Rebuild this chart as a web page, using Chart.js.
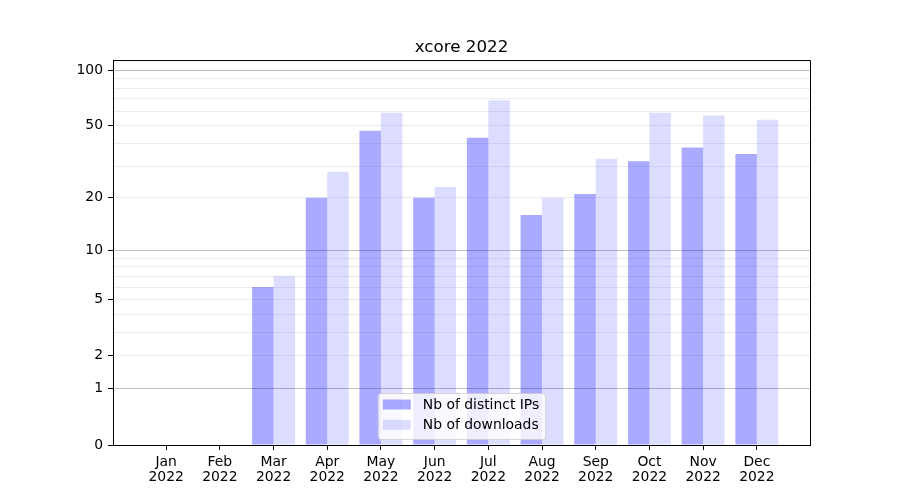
<!DOCTYPE html>
<html>
<head>
<meta charset="utf-8">
<title>xcore 2022</title>
<script src="https://cdn.jsdelivr.net/npm/chart.js@4"></script>
<style>
  html, body { margin: 0; padding: 0; background: #fff; }
</style>
</head>
<body>
<canvas id="chart" width="900" height="500"></canvas>
<script>
const months = ['Jan', 'Feb', 'Mar', 'Apr', 'May', 'Jun', 'Jul', 'Aug', 'Sep', 'Oct', 'Nov', 'Dec'];
const year = '2022';
const distinctIPs = [0, 0, 6, 20, 47, 20, 43, 16, 21, 32, 38, 35];
const downloads = [0, 0, 7, 28, 59, 23, 69, 20, 33, 59, 57, 54];
const yTickValues = [0, 1, 2, 5, 10, 20, 50, 100];
const yMinorValues = [3, 4, 6, 7, 8, 9, 30, 40, 60, 70, 80, 90];
const yDecades = [1, 10, 100];

// y = log10(1 + v) scale
class Log1pScale extends Chart.LinearScale {
  static id = 'log1p';
  static defaults = Chart.LinearScale.defaults;

  getPixelForValue(value) {
    if (value === null || isNaN(value)) return NaN;
    const t0 = Math.log10(1 + this.min);
    const t1 = Math.log10(1 + this.max);
    return this.getPixelForDecimal((Math.log10(1 + value) - t0) / (t1 - t0));
  }

  getValueForPixel(pixel) {
    const t0 = Math.log10(1 + this.min);
    const t1 = Math.log10(1 + this.max);
    return Math.pow(10, t0 + this.getDecimalForPixel(pixel) * (t1 - t0)) - 1;
  }
}
Chart.register(Log1pScale);

Chart.defaults.font.family = '"DejaVu Sans", sans-serif';
Chart.defaults.font.size = 13.9;
Chart.defaults.color = '#000';

// full box around the plot like matplotlib spines
const frame = {
  id: 'frame',
  afterDatasetsDraw(chart) {
    const { ctx, chartArea: a } = chart;
    ctx.save();
    ctx.strokeStyle = '#000';
    ctx.lineWidth = 1;
    ctx.beginPath();
    ctx.moveTo(a.left + 0.5, a.top + 0.5);
    ctx.lineTo(a.right + 0.5, a.top + 0.5);
    ctx.lineTo(a.right + 0.5, a.bottom + 0.5);
    ctx.stroke();
    ctx.restore();
  }
};

// legend inside the plot, lower center
const innerLegend = {
  id: 'innerLegend',
  afterDraw(chart) {
    const { ctx, chartArea: a } = chart;
    const sets = chart.data.datasets;
    ctx.save();
    ctx.font = '13.9px "DejaVu Sans"';
    const textW = Math.max(...sets.map(d => ctx.measureText(d.label).width));
    const w = 5 + 28 + 12 + textW + 6;
    const h = 46;
    const x = (a.left + a.right) / 2 - w / 2;
    const y = a.bottom - 6 - h;
    ctx.beginPath();
    ctx.roundRect(x + 0.5, y + 0.5, w, h, 3);
    ctx.fillStyle = 'rgba(255,255,255,0.8)';
    ctx.fill();
    ctx.strokeStyle = 'rgba(204,204,204,0.8)';
    ctx.lineWidth = 1;
    ctx.stroke();
    sets.forEach((d, i) => {
      const cy = y + 11.5 + i * 20.3;
      ctx.fillStyle = d.backgroundColor;
      ctx.fillRect(x + 5, cy - 5, 28, 10);
      ctx.fillStyle = '#000';
      ctx.textBaseline = 'middle';
      ctx.textAlign = 'left';
      ctx.fillText(d.label, x + 45, cy + 0.5);
    });
    ctx.restore();
  }
};

new Chart(document.getElementById('chart'), {
  type: 'bar',
  data: {
    datasets: [
      {
        label: 'Nb of distinct IPs',
        data: distinctIPs.map((v, i) => ({ x: i, y: v })),
        backgroundColor: 'rgba(0,0,255,0.333)',
        borderWidth: 0
      },
      {
        label: 'Nb of downloads',
        data: downloads.map((v, i) => ({ x: i, y: v })),
        backgroundColor: 'rgba(0,0,255,0.133)',
        borderWidth: 0
      }
    ]
  },
  options: {
    responsive: false,
    animation: false,
    events: [],
    categoryPercentage: 0.8,
    barPercentage: 1.0,
    layout: { padding: { left: 0, right: 90, top: 0, bottom: 0 } },
    scales: {
      x: {
        type: 'linear',
        min: -0.99,
        max: 11.99,
        offset: false,
        afterBuildTicks: s => { s.ticks = months.map((m, i) => ({ value: i })); },
        afterFit: s => { s.height = 55; },
        ticks: {
          autoSkip: false,
          maxRotation: 0,
          padding: 4.5,
          font: { size: 13.9, lineHeight: 1.12 },
          callback: v => [months[Math.round(v)], year]
        },
        grid: { offset: false, drawOnChartArea: false, tickLength: 5, tickColor: '#000' },
        border: { color: '#000', width: 1 }
      },
      y: {
        type: 'log1p',
        min: 0,
        max: 113.7,
        bounds: 'data',
        afterBuildTicks: s => {
          s.ticks = yTickValues.concat(yMinorValues).sort((p, q) => p - q).map(v => ({ value: v }));
        },
        afterFit: s => { s.width = 113; },
        ticks: {
          autoSkip: false,
          padding: 5,
          callback: v => (yTickValues.includes(v) ? String(v) : '')
        },
        grid: {
          tickLength: 5,
          color: c => {
            const v = c.tick ? c.tick.value : null;
            if (v === 0) return 'rgba(0,0,0,0)';
            return yDecades.includes(v) ? 'rgba(0,0,0,0.25)' : 'rgba(0,0,0,0.075)';
          },
          tickColor: c => (c.tick && yTickValues.includes(c.tick.value) ? '#000' : 'rgba(0,0,0,0)')
        },
        border: { color: '#000', width: 1 }
      }
    },
    plugins: {
      legend: { display: false },
      tooltip: { enabled: false },
      title: {
        display: true,
        fullSize: false,
        text: 'xcore 2022',
        color: '#000',
        font: { size: 16.7, weight: 'normal', lineHeight: 1.2 },
        padding: { top: 38, bottom: 2 }
      }
    }
  },
  plugins: [frame, innerLegend]
});
</script>
</body>
</html>
